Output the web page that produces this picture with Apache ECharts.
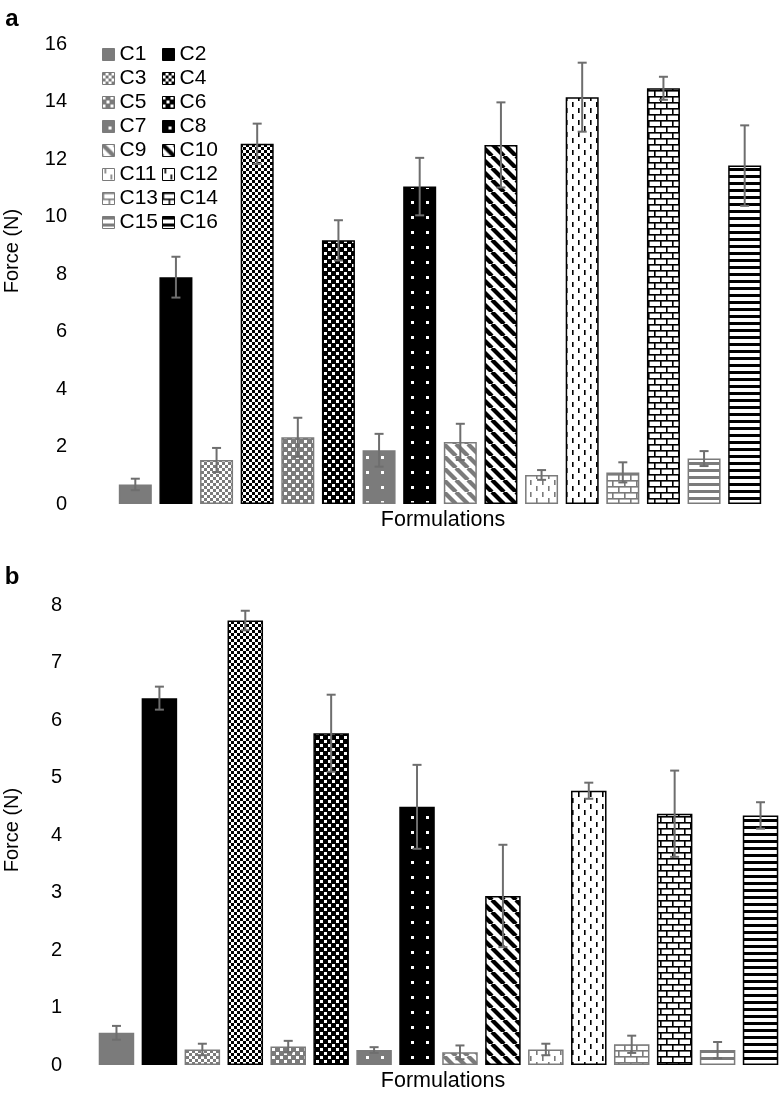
<!DOCTYPE html>
<html><head><meta charset="utf-8">
<script src="https://cdn.jsdelivr.net/npm/echarts@6/dist/echarts.min.js"></script>
<style>html,body{margin:0;padding:0;background:#fff}#c{width:782px;height:1094px}</style>
</head><body><div id="c"></div>
<script>
// ---- data ----
const categories = ['C1','C2','C3','C4','C5','C6','C7','C8','C9','C10','C11','C12','C13','C14','C15','C16'];
const forceA = [0.68, 7.89, 1.53, 12.53, 2.32, 9.17, 1.87, 11.04, 2.16, 12.49, 1.01, 14.15, 1.10, 14.46, 1.58, 11.77];
const errA   = [0.20, 0.71, 0.42, 0.70, 0.68, 0.70, 0.57, 1.00, 0.63, 1.48, 0.17, 1.20, 0.35, 0.40, 0.26, 1.40];
const forceB = [0.56, 6.38, 0.27, 7.73, 0.32, 5.77, 0.26, 4.49, 0.22, 2.94, 0.27, 4.77, 0.36, 4.37, 0.26, 4.34];
const errB   = [0.12, 0.20, 0.10, 0.17, 0.10, 0.67, 0.05, 0.73, 0.12, 0.89, 0.10, 0.14, 0.15, 0.75, 0.14, 0.23];
const ticksA = {min:0, max:16, interval:2};
const ticksB = {min:0, max:8, interval:1};

const GRAY = '#7b7b7b', BLACK = '#000000', ERR = '#6e6e6e';
const FONT = 'Liberation Sans, Arial, sans-serif';

function tile(w, h, draw){
  const c = document.createElement('canvas'); c.width = w; c.height = h;
  const g = c.getContext('2d'); draw(g, w, h);
  return {image: c, repeat: 'repeat'};
}
const pat = {
  solid: col => col,
  checker: col => tile(6,6,(g)=>{g.fillStyle='#fff';g.fillRect(0,0,6,6);g.fillStyle=col;g.fillRect(0,0,3,3);g.fillRect(3,3,3,3);}),
  big: col => tile(8,8,(g)=>{g.fillStyle=col;g.fillRect(0,0,8,8);g.fillStyle='#fff';g.fillRect(0,0,3,3);g.fillRect(4,4,3,3);}),
  dots: col => tile(15,15,(g)=>{g.fillStyle=col;g.fillRect(0,0,15,15);g.fillStyle='#fff';g.fillRect(6,6,3,3);}),
  diag: col => tile(12,12,(g)=>{g.fillStyle='#fff';g.fillRect(0,0,12,12);g.strokeStyle=col;g.lineWidth=4.2;
    for(const x0 of [-12,0,12]){g.beginPath();g.moveTo(x0,0);g.lineTo(x0+12,12);g.stroke();}}),
  vdash: col => tile(12,12,(g)=>{g.fillStyle='#fff';g.fillRect(0,0,12,12);g.fillStyle=col;g.fillRect(2,0,1.6,5);g.fillRect(8,6,1.6,5);}),
  brick: col => tile(12,12,(g)=>{g.fillStyle='#fff';g.fillRect(0,0,12,12);g.fillStyle=col;g.fillRect(0,0,12,1.6);g.fillRect(0,6,12,1.6);g.fillRect(0,0,1.6,6);g.fillRect(6,6,1.6,6);}),
  hstripe: col => tile(4,7,(g)=>{g.fillStyle='#fff';g.fillRect(0,0,4,7);g.fillStyle=col;g.fillRect(0,0,4,3);})
};
const kinds = ['solid','checker','big','dots','diag','vdash','brick','hstripe'];
const fills = [], edges = [];
kinds.forEach(k => { fills.push(pat[k](GRAY)); edges.push(GRAY); fills.push(pat[k](BLACK)); edges.push(BLACK); });

function makeBars(values, gi, bw){
  return categories.map((name, i) => ({
    type:'bar', name, xAxisIndex:gi, yAxisIndex:gi, barWidth:bw, barGap:'-100%',
    data: values.map((v, j) => j === i ? v : '-'),
    itemStyle:{color:fills[i], borderColor:edges[i], borderWidth:1.5},
    emphasis:{disabled:true}, silent:true
  }));
}
function makeErr(values, errs, gi){
  return {
    type:'custom', xAxisIndex:gi, yAxisIndex:gi, z:10, silent:true,
    data: values.map((v, i) => [i, v, errs[i]]),
    encode:{x:0, y:1},
    renderItem:(params, api) => {
      const i = api.value(0), v = api.value(1), e = api.value(2);
      const t = api.coord([i, v + e]), b = api.coord([i, v - e]);
      const hw = 4.5, st = {stroke:ERR, lineWidth:2};
      return {type:'group', children:[
        {type:'line', shape:{x1:t[0], y1:t[1], x2:b[0], y2:b[1]}, style:st},
        {type:'line', shape:{x1:t[0]-hw, y1:t[1], x2:t[0]+hw, y2:t[1]}, style:st},
        {type:'line', shape:{x1:b[0]-hw, y1:b[1], x2:b[0]+hw, y2:b[1]}, style:st}
      ]};
    }
  };
}
function xAx(gi){ return {type:'category', gridIndex:gi, data:categories, axisLine:{show:false}, axisTick:{show:false}, axisLabel:{show:false}, splitLine:{show:false}}; }
function yAx(gi, t, margin){ return {type:'value', gridIndex:gi, min:t.min, max:t.max, interval:t.interval, axisLine:{show:false}, axisTick:{show:false}, splitLine:{show:false},
  axisLabel:{fontSize:20, color:'#000', fontFamily:FONT, margin}}; }

const txt = (x, y, s, size, opts={}) => ({type:'text', x, y, rotation:opts.rot||0, style:{text:s, x:0, y:0, fontSize:size, fontFamily:FONT, fontWeight:opts.bold?'bold':'normal', fill:'#000', align:'center', verticalAlign:'middle'}});

const legendBase = {orient:'vertical', top:44, padding:0, itemWidth:12, itemHeight:12, itemGap:3, icon:'rect', selectedMode:false,
  textStyle:{fontSize:21, lineHeight:21, color:'#000', fontFamily:FONT, padding:[0,0,0,0]}, itemStyle:{borderWidth:1}};

const chart = echarts.init(document.getElementById('c'), null, {renderer:'canvas'});
chart.setOption({
  animation:false,
  backgroundColor:'#fff',
  grid:[
    {left:115, top:44, width:650, height:460},
    {left:95, top:605, width:688, height:460}
  ],
  xAxis:[xAx(0), xAx(1)],
  yAxis:[yAx(0, ticksA, 48), yAx(1, ticksB, 33)],
  legend:[
    Object.assign({}, legendBase, {left:102, data:categories.filter((c, i) => i % 2 === 0)}),
    Object.assign({}, legendBase, {left:162, data:categories.filter((c, i) => i % 2 === 1)})
  ],
  graphic:[
    txt(12, 19, 'a', 24, {bold:true}),
    txt(12, 577, 'b', 24, {bold:true}),
    txt(12, 251, 'Force (N)', 20, {rot:Math.PI/2}),
    txt(12, 830, 'Force (N)', 20, {rot:Math.PI/2}),
    txt(443, 520, 'Formulations', 21.5),
    txt(443, 1081, 'Formulations', 21.5)
  ],
  series:[
    ...makeBars(forceA, 0, 33), makeErr(forceA, errA, 0),
    ...makeBars(forceB, 1, 35.5), makeErr(forceB, errB, 1)
  ]
});
</script></body></html>
